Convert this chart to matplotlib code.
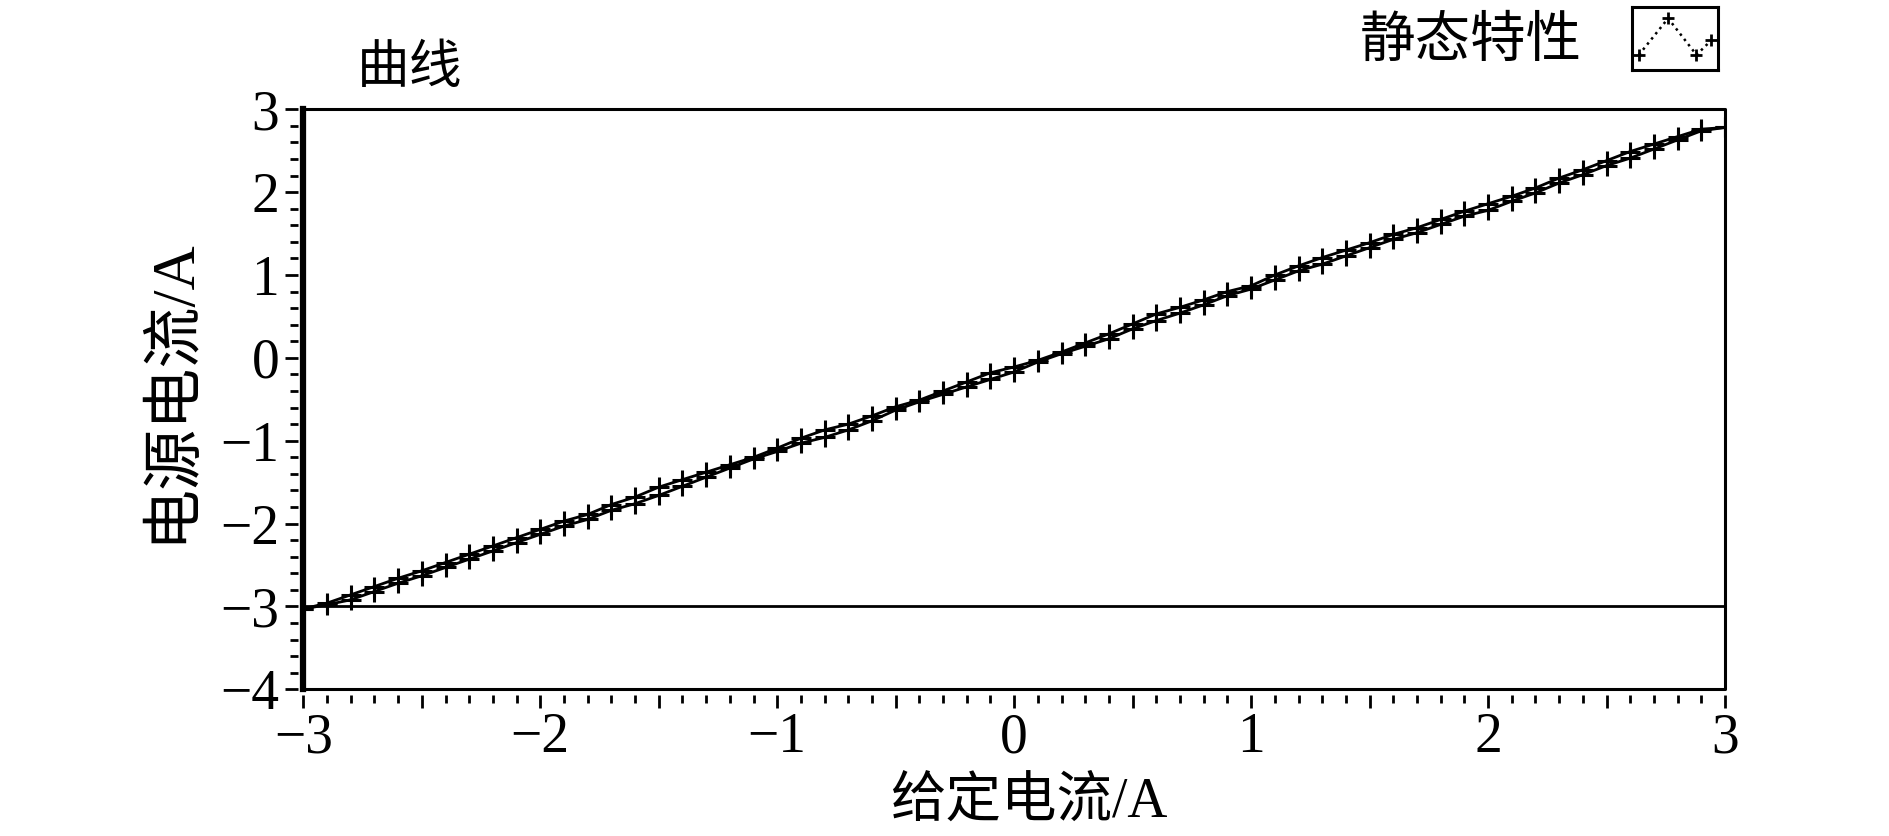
import matplotlib
matplotlib.use('Agg')
import matplotlib.pyplot as plt
from matplotlib.ticker import MultipleLocator, FuncFormatter

plt.rcParams['font.family'] = ['Liberation Serif', 'Noto Sans CJK SC']
plt.rcParams['axes.unicode_minus'] = True

# 给定电流 (A), sampled every 0.1 A
set_current = [-3.0, -2.9, -2.8, -2.7, -2.6, -2.5, -2.4, -2.3, -2.2, -2.1,
               -2.0, -1.9, -1.8, -1.7, -1.6, -1.5, -1.4, -1.3, -1.2, -1.1,
               -1.0, -0.9, -0.8, -0.7, -0.6, -0.5, -0.4, -0.3, -0.2, -0.1,
               0.0, 0.1, 0.2, 0.3, 0.4, 0.5, 0.6, 0.7, 0.8, 0.9,
               1.0, 1.1, 1.2, 1.3, 1.4, 1.5, 1.6, 1.7, 1.8, 1.9,
               2.0, 2.1, 2.2, 2.3, 2.4, 2.5, 2.6, 2.7, 2.8, 2.9, 3.0]

# 电源电流 (A), upper trace
supply_up = [-3.03, -2.96, -2.86, -2.76, -2.66, -2.57, -2.47, -2.37, -2.27, -2.17,
             -2.07, -1.97, -1.89, -1.77, -1.68, -1.56, -1.47, -1.38, -1.29, -1.20,
             -1.09, -0.97, -0.87, -0.80, -0.70, -0.59, -0.51, -0.40, -0.29, -0.18,
             -0.11, -0.03, 0.07, 0.18, 0.29, 0.41, 0.53, 0.61, 0.70, 0.80,
             0.87, 1.00, 1.11, 1.21, 1.30, 1.39, 1.49, 1.57, 1.67, 1.77,
             1.86, 1.95, 2.05, 2.17, 2.27, 2.38, 2.49, 2.58, 2.67, 2.76, 2.78]

# 电源电流 (A), lower trace
supply_down = [-3.03, -2.98, -2.92, -2.82, -2.72, -2.63, -2.53, -2.43, -2.33, -2.23,
               -2.13, -2.03, -1.95, -1.84, -1.76, -1.66, -1.55, -1.44, -1.33, -1.22,
               -1.13, -1.03, -0.96, -0.87, -0.76, -0.63, -0.53, -0.44, -0.35, -0.26,
               -0.17, -0.05, 0.05, 0.14, 0.23, 0.35, 0.45, 0.54, 0.64, 0.75,
               0.83, 0.94, 1.05, 1.13, 1.23, 1.33, 1.43, 1.51, 1.61, 1.71,
               1.78, 1.89, 1.99, 2.11, 2.21, 2.32, 2.41, 2.52, 2.63, 2.74, 2.78]

# flat segment at the bottom of the sweep
base_x = [-3.0, 3.0]
base_y = [-3.0, -3.0]

# legend icon shape
icon_x = [0.08, 0.42, 0.75, 0.92]
icon_y = [0.24, 0.82, 0.24, 0.47]

fig = plt.figure(figsize=(18.9, 8.36), dpi=100)
ax = fig.add_axes([0.1605, 0.1755, 0.7522, 0.6938])

ax.plot(set_current, supply_up, color='k', lw=2.0, marker='+', ms=14, mew=2.2)
ax.plot(set_current, supply_down, color='k', lw=2.0, marker='+', ms=14, mew=2.2)
ax.plot(base_x, base_y, color='k', lw=2.0)

ax.set_xlim(-3, 3)
ax.set_ylim(-4, 3)


def int_only(v, pos):
    if abs(v - round(v)) < 1e-6:
        return str(int(round(v))).replace('-', '\u2212')
    return ''


ax.xaxis.set_major_locator(MultipleLocator(0.5))
ax.xaxis.set_minor_locator(MultipleLocator(0.1))
ax.xaxis.set_major_formatter(FuncFormatter(int_only))
ax.yaxis.set_major_locator(MultipleLocator(1))
ax.yaxis.set_minor_locator(MultipleLocator(0.2))
ax.yaxis.set_major_formatter(FuncFormatter(int_only))

ax.tick_params(which='both', direction='out', width=2, labelsize=40, colors='k')
ax.tick_params(which='major', length=9.4)
ax.tick_params(which='minor', length=5.8)
ax.tick_params(axis='x', pad=3)
ax.tick_params(axis='y', pad=4)

# ticks sit a little away from the frame
for side in ['left', 'bottom']:
    ax.spines[side].set_position(('outward', 4))
for side in ax.spines:
    ax.spines[side].set_visible(False)
ax.plot([0, 1, 1, 0], [0, 0, 1, 1], transform=ax.transAxes, color='k', lw=2.2, clip_on=False)
ax.plot([0, 0], [0, 1], transform=ax.transAxes, color='k', lw=4.5, clip_on=False)

ax.set_xlabel('给定电流/A', fontsize=40, va='center')
ax.xaxis.set_label_coords(0.51, -0.195)
ax.set_ylabel('电源电流/A', fontsize=44, va='center')
ax.yaxis.set_label_coords(-0.092, 0.515)

fig.text(410 / 1890, 1 - 70 / 836, '曲线', fontsize=38, ha='center', va='center')
fig.text(1471 / 1890, 1 - 43 / 836, '静态特性', fontsize=40, ha='center', va='center')

# legend icon box
lax = fig.add_axes([1632 / 1890, 1 - 70 / 836, 86 / 1890, 63 / 836])
lax.plot(icon_x, icon_y, color='k', lw=1.8, ls=':', marker='+', ms=9, mew=2)
lax.set_xlim(0, 1)
lax.set_ylim(0, 1)
lax.set_xticks([])
lax.set_yticks([])
for s in lax.spines.values():
    s.set_linewidth(2.2)

fig.savefig('out.png', dpi=100)
